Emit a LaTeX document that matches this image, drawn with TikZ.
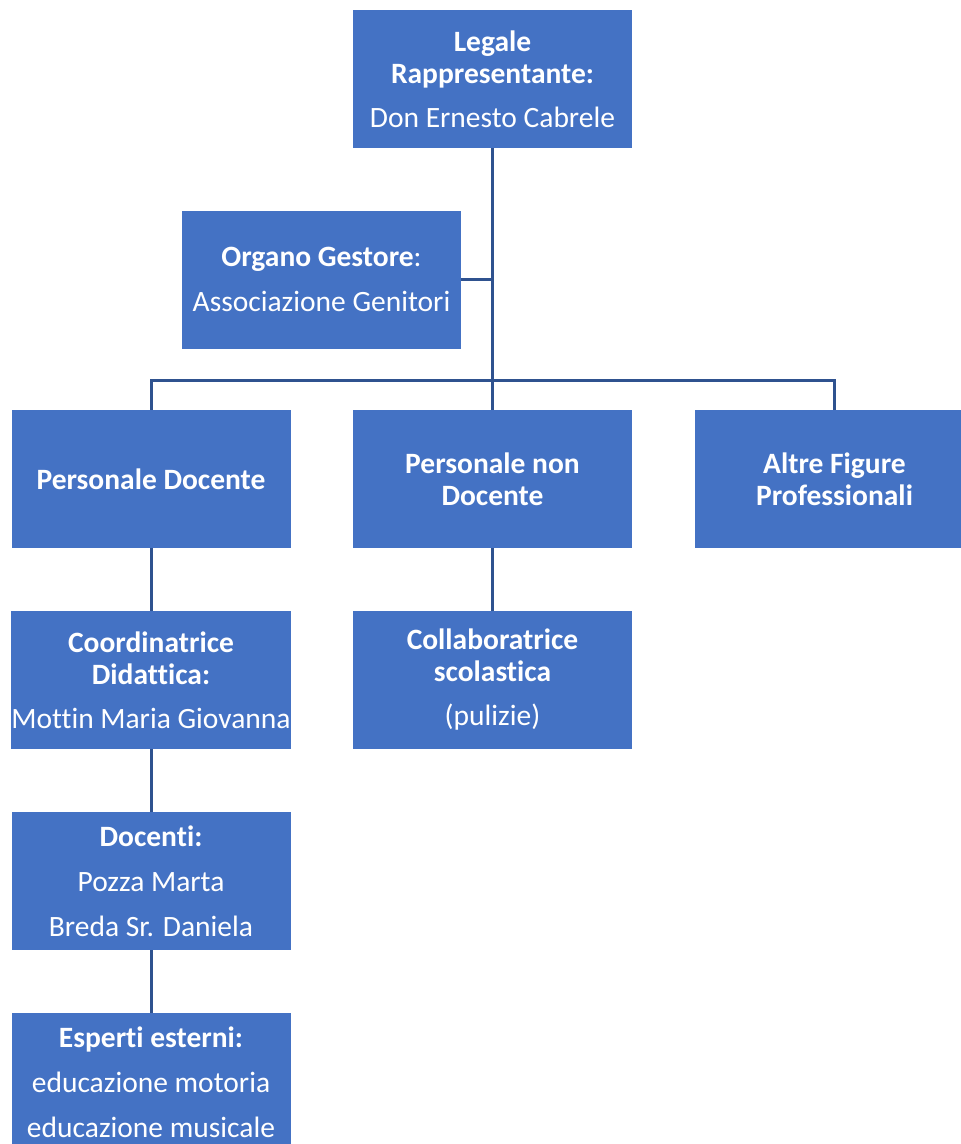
\documentclass[tikz,border=0pt]{standalone}
\usepackage{fontspec}
\setmainfont{Carlito}[Ligatures={NoCommon}]
\definecolor{boxblue}{HTML}{4472C4}
\definecolor{linkblue}{HTML}{2F528F}
\begin{document}
\begin{tikzpicture}[x=1pt,y=-1pt,
  orgbox/.style={fill=boxblue, draw=none, minimum width=279pt, minimum height=138pt,
    inner sep=0pt, align=center, text=white, font=\fontsize{29.5}{32}\selectfont},
  link/.style={draw=linkblue, line width=3pt}]
\useasboundingbox[clip] (0,0) rectangle (961,1144);
\node[orgbox] (top) at (492.5,79) {\textbf{Legale}\\\textbf{Rappresentante:}\\[12pt]Don Ernesto Cabrele};
\node[orgbox] (org) at (321.5,279.5) {\textbf{Organo Gestore}:\\[13pt]Associazione Genitori};
\node[orgbox] (pd) at (151,479) {\textbf{Personale Docente}};
\node[orgbox] (pnd) at (492.5,479) {\textbf{Personale non}\\\textbf{Docente}};
\node[orgbox] (alt) at (834.5,479) {\textbf{Altre Figure}\\\textbf{Professionali}};
\node[orgbox] (coord) at (151,680) {\textbf{Coordinatrice}\\\textbf{Didattica:}\\[12pt]Mottin Maria Giovanna};
\node[orgbox] (coll) at (492.5,680) {\textbf{Collaboratrice}\\\textbf{scolastica}\\[12pt](pulizie)};
\node[orgbox] (doc) at (151,881) {\textbf{Docenti:}\\[13pt]Pozza Marta\\[13pt]Breda Sr. Daniela};
\node[orgbox] (esp) at (151,1082) {\textbf{Esperti esterni:}\\[13pt]educazione motoria\\[13pt]educazione musicale};
\coordinate (bus) at (493,380);
\draw[link] (top.south) -- (top.south |- bus);
\draw[link] (org.east) -- (org.east -| top.south);
\draw[link] (pd.north) -- (pd.north |- bus) -- (alt.north |- bus) -- (alt.north);
\draw[link] (pnd.north) -- (pnd.north |- bus);
\draw[link] (pd.south) -- (coord.north);
\draw[link] (coord.south) -- (doc.north);
\draw[link] (doc.south) -- (esp.north);
\draw[link] (pnd.south) -- (coll.north);
\end{tikzpicture}
\end{document}
